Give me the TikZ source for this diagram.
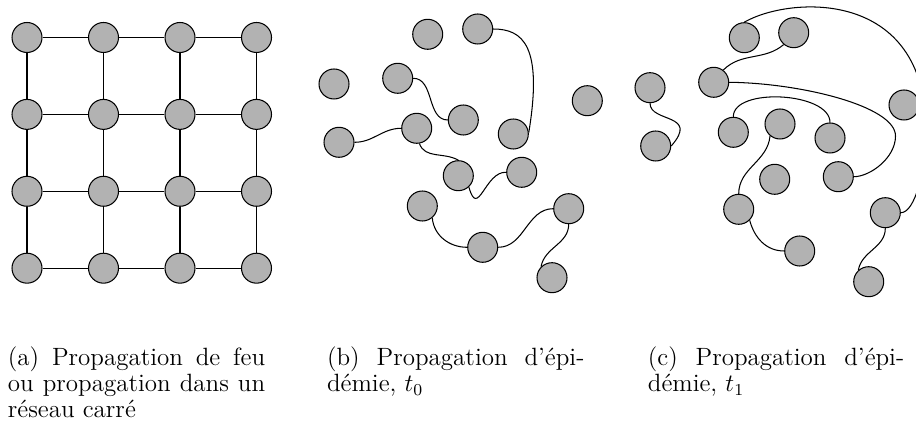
\documentclass[tikz,border=0pt]{standalone}
\usepackage{fontspec}
\begin{document}
\begin{tikzpicture}[x=0.48pt,y=0.48pt,
  vert/.style={circle, draw, fill=black!30, minimum size=14.4pt, inner sep=0pt, line width=0.5pt},
  lien/.style={line width=0.5pt},
  legende/.style={anchor=base west, inner sep=0pt, font=\fontsize{12}{14.5}\selectfont}]
\useasboundingbox (0,0) rectangle (916,428);
\clip (0,0) rectangle (916,428);
% ---------- panel (a) ----------
\foreach \i/\x in {0/27,1/103.5,2/180,3/256.5}
  \foreach \j/\y in {0/390.5,1/313.6,2/236.7,3/159.8}
    \node[vert] (a\i\j) at (\x,\y) {};
\foreach \i in {0,...,3}
  \foreach \j/\k in {0/1,1/2,2/3} {
    \draw[lien] (a\i\j) -- (a\i\k);
    \draw[lien] (a\j\i) -- (a\k\i);
  }
% ---------- panel (b) ----------
\node[vert] (b1) at (427.7,393.7) {};
\node[vert] (b2) at (477.7,399) {};
\node[vert] (b3) at (334,344) {};
\node[vert] (b4) at (397.7,349.7) {};
\node[vert] (b5) at (587.3,327.3) {};
\node[vert] (b6) at (463.3,308) {};
\node[vert] (b7) at (513.3,294) {};
\node[vert] (b8) at (339,285.7) {};
\node[vert] (b9) at (416.7,299.7) {};
\node[vert] (b10) at (458.3,252.3) {};
\node[vert] (b11) at (521.7,255.7) {};
\node[vert] (b12) at (422.3,222) {};
\node[vert] (b13) at (482.7,180.7) {};
\node[vert] (b14) at (568.7,219.3) {};
\node[vert] (b15) at (552,150.3) {};
\draw[lien] (b2.east) .. controls (523,399) and (543,382) .. (b7.5);
\draw[lien] (b4.east) to[out=0,in=180] (b6.west);
\draw[lien] (b8.east) to[out=0,in=180] (b9.west);
\draw[lien] (b9.-80) to[out=-70,in=150] (b10.north);
\draw[lien] (b10.-47) .. controls (478,208) and (485,257) .. (b11.west);
\draw[lien] (b12.-50) to[out=-85,in=180] (b13.west);
\draw[lien] (b13.east) to[out=0,in=180] (b14.west);
\draw[lien] (b14.south) to[out=-90,in=80] (b15.135);
% ---------- panel (c) ----------
\node[vert] (c1) at (744.3,390.3) {};
\node[vert] (c2) at (793.7,395.3) {};
\node[vert] (c3) at (713.7,345.7) {};
\node[vert] (c4) at (650,340.3) {};
\node[vert] (c5) at (904,323) {};
\node[vert] (c6) at (655.7,282) {};
\node[vert] (c7) at (733.3,295.7) {};
\node[vert] (c8) at (780,304) {};
\node[vert] (c9) at (830,290) {};
\node[vert] (c10) at (774.7,248.7) {};
\node[vert] (c11) at (838.3,251.3) {};
\node[vert] (c12) at (738.7,218.7) {};
\node[vert] (c13) at (885.3,215.3) {};
\node[vert] (c14) at (799.7,177) {};
\node[vert] (c15) at (868.7,146.3) {};
\coordinate (cw) at (926,298);
\coordinate (cv) at (895.5,292);
\draw[lien] (c1.north) .. controls (790,432) and (926,440) .. (cw)
  .. controls (926,258) and (915,215.3) .. (c13.east);
\draw[lien] (c2.230) to[out=-140,in=45] (c3.52);
\draw[lien] (c3.east) .. controls (800,345) and (895.5,322) .. (cv)
  .. controls (895.5,270) and (870,251.3) .. (c11.east);
\draw[lien] (c4.south) .. controls (650,305) and (700,315) .. (c6.east);
\draw[lien] (c7.north) .. controls (733.3,341) and (830,336) .. (c9.north);
\draw[lien] (c8.-130) to[out=-95,in=90] (c12.north);
\draw[lien] (c12.-45) to[out=-75,in=180] (c14.west);
\draw[lien] (c13.south) to[out=-90,in=80] (c15.132);
% ---------- captions ----------
\node[legende] (la1) at (7.5,62.3) {\makebox[123.5pt][s]{(a) Propagation de feu}};
\node[legende] (la2) at (7.5,36.3) {\makebox[123.5pt][s]{ou propagation dans un}};
\node[legende] (la3) at (7.5,10.3) {réseau carré};
\node[legende] (lb1) at (326.7,62.3) {\makebox[123.5pt][s]{(b) Propagation d'épi-}};
\node[legende] (lb2) at (326.7,36.3) {démie, $t_0$};
\node[legende] (lc1) at (647.5,62.3) {\makebox[123pt][s]{(c) Propagation d'épi-}};
\node[legende] (lc2) at (647.5,36.3) {démie, $t_1$};
\end{tikzpicture}
\end{document}
